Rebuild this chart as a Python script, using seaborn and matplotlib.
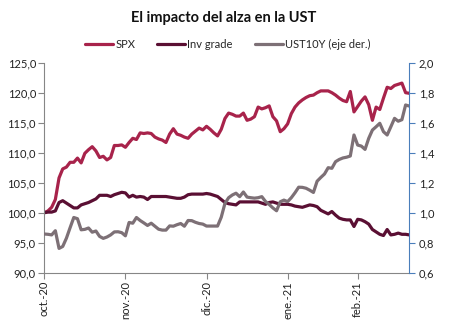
import numpy as np
import pandas as pd
import matplotlib
matplotlib.use("Agg")
import matplotlib.pyplot as plt
from matplotlib.ticker import FuncFormatter, FixedLocator
import seaborn as sns

# ---- data ----
month_labels = ["oct.-20", "nov.-20", "dic.-20", "ene.-21", "feb.-21"]
month_start_idx = [0, 22, 44, 66, 85]

spx = [100.0, 100.3, 100.9, 102.2, 105.8, 107.3, 107.6, 108.4, 108.4, 109.1,
       108.3, 109.9, 110.5, 111.0, 110.3, 109.2, 109.4, 108.8, 109.2, 111.2,
       111.2, 111.3, 110.9, 111.7, 112.4, 112.2, 113.3, 113.2, 113.3, 113.2,
       112.6, 112.3, 112.1, 111.7, 113.1, 114.0, 113.1, 112.9, 112.6, 112.4,
       113.1, 113.6, 114.1, 113.8, 114.4, 113.9, 113.3, 112.8, 113.9, 115.7,
       116.6, 116.4, 116.1, 116.1, 116.6, 115.4, 115.6, 116.0, 117.6, 117.3,
       117.5, 117.8, 116.0, 115.3, 113.5, 114.0, 114.8, 116.5, 117.6, 118.3,
       118.8, 119.2, 119.5, 119.6, 120.0, 120.3, 120.3, 120.3, 120.0, 119.6,
       119.1, 118.7, 118.5, 120.2, 116.8, 117.7, 118.6, 119.3, 118.0, 115.4,
       117.6, 117.2, 119.1, 120.9, 120.7, 121.2, 121.4, 121.6, 120.0, 119.9]

inv_grade = [100.0, 100.1, 100.1, 100.3, 101.7, 102.0, 101.6, 101.2, 100.8, 100.8,
             101.3, 101.5, 101.7, 102.0, 102.3, 102.9, 102.9, 102.9, 102.7, 103.0,
             103.2, 103.4, 103.3, 102.6, 102.9, 102.6, 102.7, 102.6, 102.2, 102.7,
             102.7, 102.7, 102.7, 102.7, 102.6, 102.5, 102.4, 102.4, 102.6, 103.0,
             103.1, 103.1, 103.1, 103.1, 103.2, 103.1, 102.9, 102.7, 102.2, 101.7,
             101.5, 101.4, 101.3, 101.8, 101.8, 101.8, 101.8, 101.8, 101.8, 101.6,
             101.4, 101.7, 101.8, 101.6, 101.4, 101.4, 101.4, 101.3, 101.1, 101.0,
             100.9, 101.1, 101.3, 101.2, 101.0, 100.4, 100.1, 99.8, 100.2, 99.6,
             99.1, 98.9, 98.8, 98.8, 97.7, 98.9, 98.8, 98.5, 98.1, 97.2,
             96.8, 96.4, 96.2, 97.2, 96.3, 96.4, 96.6, 96.4, 96.4, 96.3]

ust10y = [0.858, 0.856, 0.852, 0.880, 0.762, 0.775, 0.830, 0.900, 0.968, 0.960,
          0.886, 0.889, 0.898, 0.870, 0.878, 0.842, 0.829, 0.838, 0.852, 0.872,
          0.873, 0.867, 0.846, 0.935, 0.930, 0.968, 0.948, 0.932, 0.915, 0.930,
          0.910, 0.890, 0.884, 0.884, 0.912, 0.910, 0.920, 0.928, 0.910, 0.948,
          0.947, 0.936, 0.928, 0.924, 0.911, 0.911, 0.911, 0.911, 0.970, 1.062,
          1.100, 1.118, 1.130, 1.107, 1.138, 1.104, 1.100, 1.097, 1.100, 1.107,
          1.075, 1.055, 1.032, 1.013, 1.073, 1.084, 1.074, 1.100, 1.133, 1.170,
          1.169, 1.163, 1.150, 1.135, 1.210, 1.235, 1.258, 1.300, 1.296, 1.340,
          1.355, 1.365, 1.370, 1.378, 1.518, 1.451, 1.444, 1.422, 1.496, 1.551,
          1.573, 1.596, 1.540, 1.518, 1.573, 1.629, 1.610, 1.620, 1.718, 1.711]

series_names = ["SPX", "Inv grade", "UST10Y (eje der.)"]
colors = ["#A8234B", "#5A0F33", "#7D7076"]

# ---- plot ----
sns.set_style("white")
plt.rcParams["font.family"] = ["Lato", "DejaVu Sans"]

idx = np.arange(len(spx))
df = pd.DataFrame({"idx": idx, "spx": spx, "inv": inv_grade, "ust": ust10y})

fig = plt.figure(figsize=(4.51, 3.31), dpi=100)
ax = fig.add_axes([0.0982, 0.1761, 0.8093, 0.6345])
ax2 = ax.twinx()

sns.lineplot(data=df, x="idx", y="spx", ax=ax, color=colors[0], lw=2.3, label=series_names[0], legend=False)
sns.lineplot(data=df, x="idx", y="inv", ax=ax, color=colors[1], lw=2.3, label=series_names[1], legend=False)
sns.lineplot(data=df, x="idx", y="ust", ax=ax2, color=colors[2], lw=2.3, label=series_names[2], legend=False)

ax.set_xlim(0, len(spx) - 1)
ax.set_ylim(90, 125)
ax2.set_ylim(0.6, 2.0)
ax.set_yticks(np.arange(90, 125.1, 5))
ax2.set_yticks(np.arange(0.6, 2.01, 0.2))
ax.yaxis.set_major_formatter(FuncFormatter(lambda v, p: f"{v:.1f}".replace(".", ",")))
ax2.yaxis.set_major_formatter(FuncFormatter(lambda v, p: f"{v:.1f}".replace(".", ",")))
ax.xaxis.set_major_locator(FixedLocator(month_start_idx))
ax.set_xticklabels(month_labels, rotation=90)

for a in (ax, ax2):
    a.set_xlabel("")
    a.set_ylabel("")
    a.spines["top"].set_visible(False)

grey = "#868686"
ax.spines["left"].set_color(grey)
ax.spines["bottom"].set_color(grey)
ax.spines["right"].set_visible(False)
ax2.spines["left"].set_visible(False)
ax2.spines["bottom"].set_visible(False)
ax2.spines["right"].set_color("#4A7EBB")

ax.tick_params(axis="y", which="major", left=True, length=4, width=0.8, color=grey,
               labelsize=8, labelcolor="#222222", pad=2)
ax.tick_params(axis="x", which="major", bottom=True, length=4, width=0.8, color=grey,
               labelsize=8, labelcolor="#222222", pad=2)
ax2.tick_params(axis="y", which="major", right=True, length=4, width=0.8, color="#4A7EBB",
                labelsize=8, labelcolor="#222222", pad=3)

fig.text(0.497, 0.945, "El impacto del alza en la UST", ha="center", va="center",
         fontsize=10.5, fontweight="bold", color="#111111")

handles = ax.get_lines()[:2] + ax2.get_lines()[:1]
fig.legend(handles, series_names, loc="center", bbox_to_anchor=(0.505, 0.865), ncol=3,
           frameon=False, fontsize=8, handlelength=2.5, handletextpad=0.2,
           columnspacing=2.0)

fig.savefig("out.png", dpi=100)
